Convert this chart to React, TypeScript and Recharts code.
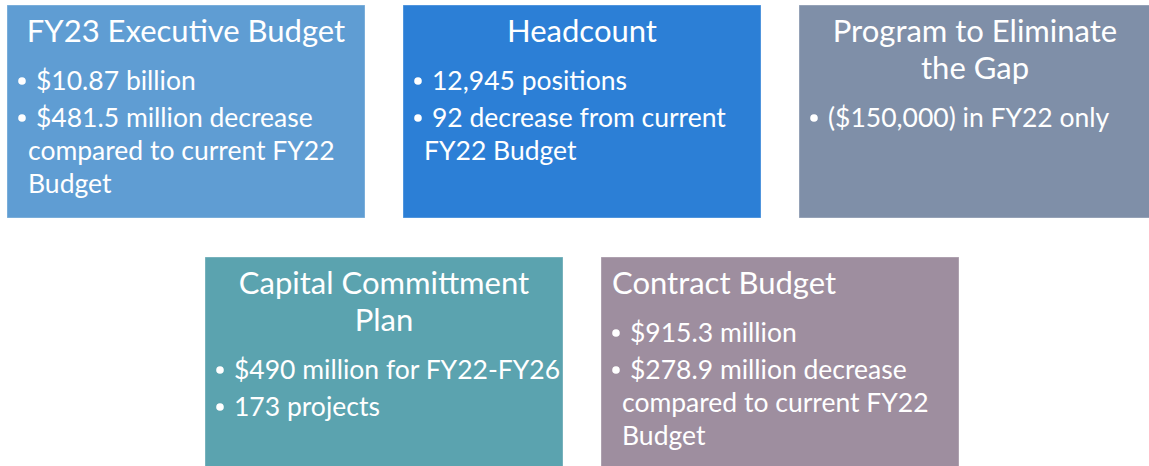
import React from 'react';
import { ComposedChart, Scatter, XAxis, YAxis } from 'recharts';

// content of each card
const titles: string[][] = [
  ['FY23 Executive Budget'],
  ['Headcount'],
  ['Program to Eliminate', 'the Gap'],
  ['Capital Committment', 'Plan'],
  ['Contract Budget'],
];

const bullets: string[][][] = [
  [['$10.87 billion'], ['$481.5 million decrease', 'compared to current FY22', 'Budget']],
  [['12,945 positions'], ['92 decrease from current', 'FY22 Budget']],
  [['($150,000) in FY22 only']],
  [['$490 million for FY22-FY26'], ['173 projects']],
  [['$915.3 million'], ['$278.9 million decrease', 'compared to current FY22', 'Budget']],
];

const cardColors = ['#5F9DD3', '#2C7FD6', '#7F8FA8', '#5BA3AF', '#9E8E9F'];
const titleAlign = ['middle', 'middle', 'middle', 'middle', 'start'];

// layout of the cards on the slide (pixels)
const W = 1149;
const H = 466;
const cardBoxes = [
  { left: 7, top: 5, width: 358, height: 213 },
  { left: 403, top: 5, width: 358, height: 213 },
  { left: 799, top: 5, width: 352, height: 213 },
  { left: 205, top: 257, width: 358, height: 212 },
  { left: 601, top: 257, width: 358, height: 212 },
];

const FONT = 'Lato, "Open Sans", sans-serif';

const rows = titles.map((t, i) => ({
  x: cardBoxes[i].left + cardBoxes[i].width / 2,
  y: cardBoxes[i].top + cardBoxes[i].height / 2,
  idx: i,
}));

const Card = (props: any) => {
  const { cx, cy, payload } = props;
  const i = payload.idx;
  const b = cardBoxes[i];
  const left = cx - b.width / 2;
  const top = cy - b.height / 2;
  const lines: React.ReactNode[] = [];

  let y = top + 37;
  titles[i].forEach((t, k) => {
    if (k > 0) y += 37;
    const center = titleAlign[i] === 'middle';
    lines.push(
      <text
        key={`t${k}`}
        x={center ? cx : left + 11}
        y={y}
        textAnchor={center ? 'middle' : 'start'}
        fill="#fff"
        fontSize={31}
        fontFamily={FONT}
      >
        {t}
      </text>
    );
  });

  y += 48;
  bullets[i].forEach((group, g) => {
    if (g > 0) y += 37;
    group.forEach((ln, k) => {
      if (k > 0) y += 33;
      if (k === 0) {
        lines.push(
          <circle key={`d${g}`} cx={left + 15} cy={y - 9} r={3.8} fill="#fff" />
        );
      }
      lines.push(
        <text
          key={`b${g}-${k}`}
          x={left + (k === 0 ? 29 : 21)}
          y={y}
          fill="#fff"
          fontSize={26.5}
          fontFamily={FONT}
        >
          {ln}
        </text>
      );
    });
  });

  return (
    <g>
      <rect
        x={left}
        y={top}
        width={b.width}
        height={b.height}
        fill={cardColors[i]}
        stroke="rgba(255,255,255,0.35)"
        strokeWidth={1}
      />
      {lines}
    </g>
  );
};

export default function App() {
  return (
    <div style={{ position: 'fixed', left: 0, top: 0, background: '#fff' }}>
      <ComposedChart width={W} height={H} data={rows} margin={{ top: 0, right: 0, bottom: 0, left: 0 }}>
        <XAxis type="number" dataKey="x" domain={[0, W]} hide />
        <YAxis type="number" dataKey="y" domain={[0, H]} reversed hide />
        <Scatter dataKey="y" shape={<Card />} isAnimationActive={false} />
      </ComposedChart>
    </div>
  );
}
